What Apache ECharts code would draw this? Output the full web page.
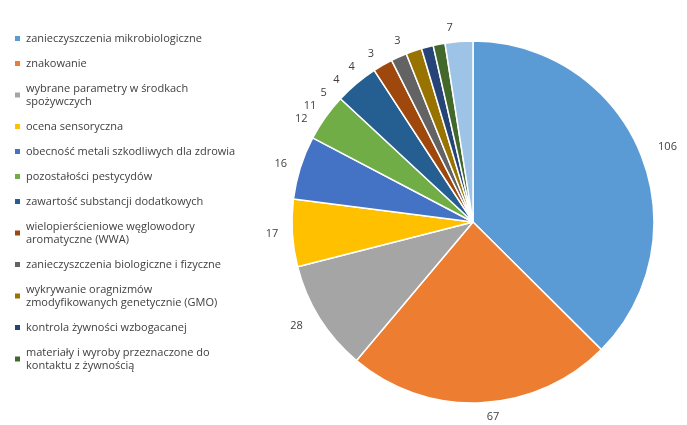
<!DOCTYPE html><html><head><meta charset="utf-8"><script src="https://cdn.jsdelivr.net/npm/echarts@6/dist/echarts.min.js"></script></head><body style="margin:0;background:#fff"><div id="c" style="width:687px;height:425px"></div><script>
const categories=["zanieczyszczenia mikrobiologiczne","znakowanie","wybrane parametry w środkach\nspożywczych","ocena sensoryczna","obecność metali szkodliwych dla zdrowia","pozostałości pestycydów","zawartość substancji dodatkowych","wielopierścieniowe węglowodory\naromatyczne (WWA)","zanieczyszczenia biologiczne i fizyczne","wykrywanie oragnizmów\nzmodyfikowanych genetycznie (GMO)","kontrola żywności wzbogacanej","materiały i wyroby przeznaczone do\nkontaktu z żywnością","inne"];
const values=[106,67,28,17,16,12,11,5,4,4,3,3,7];
const colors=["#5B9BD5","#ED7D31","#A5A5A5","#FFC000","#4472C4","#70AD47","#255E91","#9E480E","#636363","#997300","#264478","#43682B","#9DC3E6"];
const chart=echarts.init(document.getElementById('c'));
chart.setOption({
 animation:false,color:colors,
 legend:{orient:'vertical',left:8,top:27,height:400,itemWidth:7,itemHeight:7,itemGap:12,icon:'rect',
  data:categories.slice(0,12),textStyle:{fontFamily:'Open Sans',fontSize:11,color:'#404040',lineHeight:13}},
 series:[{type:'pie',center:[473,222],radius:[0,181],startAngle:90,clockwise:true,
  data:categories.map((n,i)=>({name:n,value:values[i]})),
  itemStyle:{borderColor:'#fff',borderWidth:1.5},
  label:{show:true,position:'outside',formatter:'{c}',fontFamily:'Open Sans',fontSize:11,color:'#404040'},
  labelLine:{show:false,length:14,length2:0}}]
});
</script></body></html>
